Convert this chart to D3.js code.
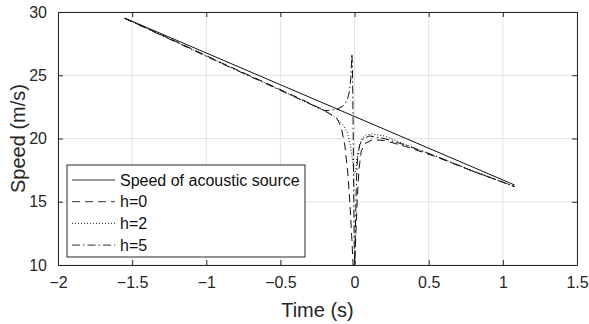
<!DOCTYPE html>
<html>
<head>
<meta charset="utf-8">
<script src="https://cdnjs.cloudflare.com/ajax/libs/d3/7.8.5/d3.min.js"></script>
<style>
  body { margin: 0; background: #fff; }
  svg { display: block; font-family: "Liberation Sans", Arial, sans-serif; }
  .tick text { fill: #262626; font-size: 16px; }
</style>
</head>
<body>
<div id="chart"></div>
<script>
// values
var tSource = [-1.55, 1.08];
var vSource = [29.52, 16.32];

var tH0 = [-1.55, -1.2, -0.9, -0.6, -0.35, -0.2, -0.12, -0.09, -0.065, -0.045, -0.03, -0.018, -0.01,
  0.0, 0.008, 0.018, 0.03, 0.045, 0.07, 0.12, 0.2, 0.35, 0.55, 0.8, 1.08];
var vH0 = [29.5, 27.65, 26.0, 24.4, 23.05, 22.2, 21.6, 20.9, 19.4, 17.2, 14.6, 12.0, 10.0,
  10.0, 12.2, 15.2, 17.6, 19.0, 19.6, 19.9, 19.85, 19.35, 18.55, 17.4, 16.2];

var tH2 = [-1.55, -1.2, -0.9, -0.6, -0.35, -0.2, -0.12, -0.08, -0.05, -0.03, -0.015, -0.005,
  0.005, 0.015, 0.03, 0.05, 0.08, 0.12, 0.2, 0.35, 0.55, 0.8, 1.08];
var vH2 = [29.5, 27.62, 25.98, 24.38, 23.0, 22.15, 21.6, 21.1, 20.5, 19.6, 18.4, 17.3,
  17.2, 18.3, 19.4, 20.0, 20.3, 20.35, 20.2, 19.5, 18.6, 17.45, 16.2];

var tH5 = [-1.55, -1.2, -0.9, -0.6, -0.35, -0.2, -0.12, -0.08, -0.05, -0.035, -0.025, -0.018, -0.014,
  -0.01, -0.006, -0.003, 0.001, 0.006, 0.012, 0.02, 0.035, 0.06, 0.1, 0.2, 0.35, 0.55, 0.8, 1.08];
var vH5 = [29.5, 27.6, 25.95, 24.35, 23.0, 22.2, 22.3, 22.55, 23.0, 23.7, 24.8, 26.7, 25.5,
  21.5, 16.0, 12.0, 10.0, 13.0, 16.5, 18.4, 19.5, 20.0, 20.2, 20.0, 19.45, 18.6, 17.4, 16.2];

var xTicks = [-2, -1.5, -1, -0.5, 0, 0.5, 1, 1.5];
var yTicks = [10, 15, 20, 25, 30];
var legendNames = ["Speed of acoustic source", "h=0", "h=2", "h=5"];

var svgWidth = 589;
var svgHeight = 324;
var margin = {top: 12, right: 12, bottom: 59, left: 58};
var width = svgWidth - margin.left - margin.right;
var height = svgHeight - margin.top - margin.bottom;

var svg = d3.select("#chart")
  .append("svg")
  .attr("width", svgWidth)
  .attr("height", svgHeight);

var chartGroup = svg.append("g")
  .attr("transform", `translate(${margin.left}, ${margin.top})`);

var x = d3.scaleLinear().domain([-2, 1.5]).range([0, width]);
var y = d3.scaleLinear().domain([10, 30]).range([height, 0]);

var axisColor = "#262626";

//grid
chartGroup.append("g")
  .selectAll("line")
  .data(xTicks)
  .enter()
  .append("line")
  .attr("x1", d => x(d)).attr("x2", d => x(d))
  .attr("y1", 0).attr("y2", height)
  .attr("stroke", "#e3e3e3");

chartGroup.append("g")
  .selectAll("line")
  .data(yTicks)
  .enter()
  .append("line")
  .attr("x1", 0).attr("x2", width)
  .attr("y1", d => y(d)).attr("y2", d => y(d))
  .attr("stroke", "#e3e3e3");

//axes (ticks point inward)
var bottomAxis = d3.axisBottom(x).tickValues(xTicks).tickSizeInner(-5).tickSizeOuter(0)
  .tickPadding(12).tickFormat(d3.format("~g"));
var leftAxis = d3.axisLeft(y).tickValues(yTicks).tickSizeInner(-5).tickSizeOuter(0)
  .tickPadding(11);
var topAxis = d3.axisTop(x).tickValues(xTicks).tickSizeInner(-5).tickSizeOuter(0).tickFormat("");
var rightAxis = d3.axisRight(y).tickValues(yTicks).tickSizeInner(-5).tickSizeOuter(0).tickFormat("");

var xAxisG = chartGroup.append("g").attr("transform", `translate(0, ${height})`).call(bottomAxis);
var yAxisG = chartGroup.append("g").call(leftAxis);
var tAxisG = chartGroup.append("g").call(topAxis);
var rAxisG = chartGroup.append("g").attr("transform", `translate(${width}, 0)`).call(rightAxis);

[xAxisG, yAxisG, tAxisG, rAxisG].forEach(function(g) {
  g.selectAll("path").attr("stroke", axisColor);
  g.selectAll("line").attr("stroke", axisColor);
  g.attr("font-family", null).attr("font-size", null);
});
xAxisG.selectAll("text").attr("dy", "0.71em");

//clip for the curves
svg.append("defs").append("clipPath").attr("id", "plotClip")
  .append("rect").attr("width", width).attr("height", height);

var line = d3.line()
  .x(d => x(d[0]))
  .y(d => y(d[1]));

var series = [
  {t: tSource, v: vSource, dash: null},
  {t: tH0, v: vH0, dash: "8,5"},
  {t: tH2, v: vH2, dash: "1,2"},
  {t: tH5, v: vH5, dash: "8,3,1.5,3"}
];

var curves = chartGroup.append("g").attr("clip-path", "url(#plotClip)");
series.forEach(function(s) {
  var pts = s.t.map((t, i) => [t, s.v[i]]);
  curves.append("path")
    .datum(pts)
    .attr("fill", "none")
    .attr("stroke", "#111")
    .attr("stroke-width", 1)
    .attr("stroke-dasharray", s.dash)
    .attr("d", line);
});

//axis labels
svg.append("text")
  .attr("x", margin.left + width / 2)
  .attr("y", 317)
  .attr("text-anchor", "middle")
  .attr("fill", axisColor)
  .attr("font-size", 20)
  .text("Time (s)");

svg.append("text")
  .attr("transform", `translate(25, ${margin.top + height / 2}) rotate(-90)`)
  .attr("text-anchor", "middle")
  .attr("fill", axisColor)
  .attr("font-size", 20)
  .text("Speed (m/s)");

//legend
var legend = svg.append("g").attr("transform", "translate(67, 165)");
legend.append("rect")
  .attr("width", 238).attr("height", 92)
  .attr("fill", "#fff")
  .attr("stroke", axisColor);

legendNames.forEach(function(name, i) {
  var rowY = 15 + i * 21.7;
  legend.append("line")
    .attr("x1", 5).attr("x2", 48)
    .attr("y1", rowY).attr("y2", rowY)
    .attr("stroke", "#333")
    .attr("stroke-dasharray", series[i].dash);
  legend.append("text")
    .attr("x", 53)
    .attr("y", rowY)
    .attr("dy", "0.35em")
    .attr("fill", "#111")
    .attr("font-size", 16)
    .text(name);
});
</script>
</body>
</html>
